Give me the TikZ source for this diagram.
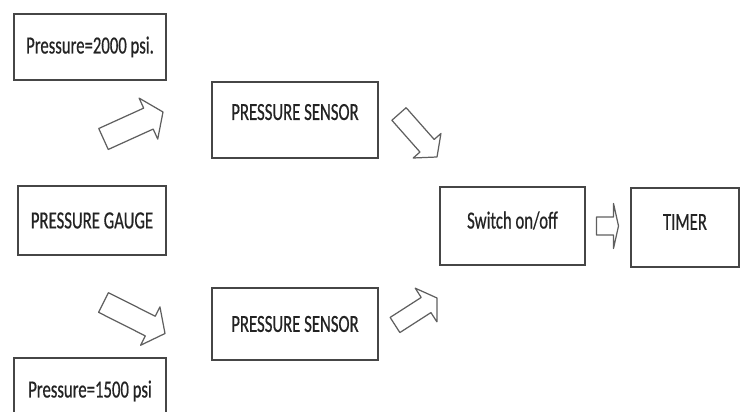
\documentclass[tikz,border=0pt]{standalone}
\usepackage{fontspec}
\usepackage{tikz}
\usetikzlibrary{calc}
\newfontfamily\boxfont{Carlito}[FakeStretch=0.68, FakeBold=0.5]
\definecolor{boxline}{RGB}{70, 70, 70}
\definecolor{arrowline}{RGB}{95, 95, 95}
\definecolor{boxtext}{RGB}{35, 35, 35}

% hollow block arrow: tail, tip, half shaft, half head, head length
\newcommand{\blockarrow}[5]{%
  \coordinate (ba-base) at ($(#2)!#5!(#1)$);
  \draw[flow] ($(#1)!#3!90:(#2)$) -- ($(ba-base)!#3!-90:(#1)$)
    -- ($(ba-base)!#4!-90:(#1)$) -- (#2) -- ($(ba-base)!#4!90:(#1)$)
    -- ($(ba-base)!#3!90:(#1)$) -- ($(#1)!#3!-90:(#2)$) -- cycle;}

\begin{document}
\begin{tikzpicture}[
    box/.style={draw=boxline, line width=0.9pt, fill=white, inner sep=0pt,
      text=boxtext, font=\boxfont\fontsize{14}{16}\selectfont},
    flow/.style={draw=arrowline, line width=0.7pt, line join=round}]
  \clip (0,0) rectangle (14.84,8.24);
  % Pressure readings
  \node[box, minimum width=3.04cm, minimum height=1.32cm] (p2000) at (1.80,7.30) {Pressure=2000 psi.};
  \node[box, minimum width=2.96cm, minimum height=1.38cm] (gauge) at (1.84,3.83) {PRESSURE GAUGE};
  \node[box, minimum width=3.04cm, minimum height=1.32cm] (p1500) at (1.80,0.42) {Pressure=1500 psi};
  % Sensors
  \node[box, minimum width=3.32cm, minimum height=1.52cm, text depth=0.32cm] (sensortop) at (5.90,5.84) {PRESSURE SENSOR};
  \node[box, minimum width=3.32cm, minimum height=1.44cm] (sensorbot) at (5.90,1.76) {PRESSURE SENSOR};
  % Switch and timer
  \node[box, minimum width=2.90cm, minimum height=1.56cm, text depth=0.24cm] (switch) at (10.25,3.72) {Switch on/off};
  \node[box, minimum width=2.16cm, minimum height=1.58cm, text depth=0.22cm] (timer) at (13.70,3.69) {TIMER};
  % Block arrows
  \coordinate (uptail) at (2.07,5.46);  \coordinate (uptip) at (3.26,6.00);
  \coordinate (downtail) at (2.07,2.19); \coordinate (downtip) at (3.30,1.57);
  \coordinate (toptail) at (7.98,5.96); \coordinate (toptip) at (8.74,5.10);
  \coordinate (bottail) at (7.90,1.74); \coordinate (bottip) at (8.74,2.28);
  \coordinate (swtail) at (switch.east -| 11.93,0); \coordinate (swtip) at (switch.east -| 12.37,0);
  \blockarrow{uptail}{uptip}{0.23cm}{0.45cm}{0.32cm}
  \blockarrow{downtail}{downtip}{0.22cm}{0.43cm}{0.33cm}
  \blockarrow{toptail}{toptip}{0.19cm}{0.37cm}{0.30cm}
  \blockarrow{bottail}{bottip}{0.18cm}{0.40cm}{0.26cm}
  \blockarrow{swtail}{swtip}{0.18cm}{0.45cm}{0.10cm}
\end{tikzpicture}
\end{document}
